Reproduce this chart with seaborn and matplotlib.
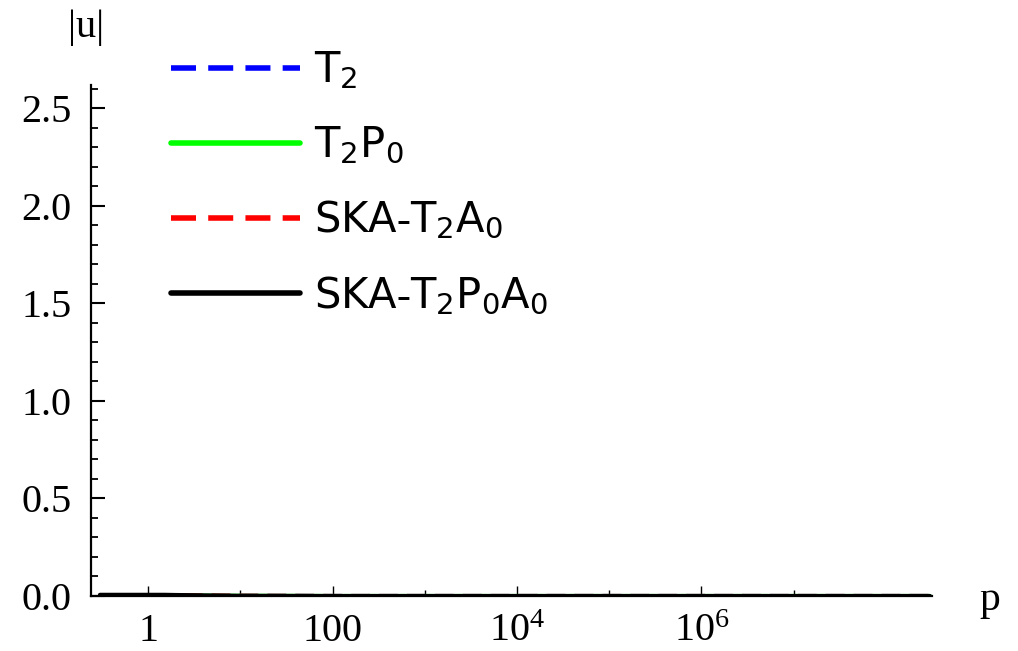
import numpy as np
import pandas as pd
import matplotlib
matplotlib.use("Agg")
import matplotlib.pyplot as plt
import seaborn as sns
from matplotlib.ticker import FixedLocator, NullFormatter, MultipleLocator

# ---- data (all curves lie on |u| ~ 0) ----
p_values = [0.3, 0.6, 1.0, 1.5, 2.0, 10.0, 100.0, 1e3, 1e4, 1e5, 1e6, 1e7, 1e8, 3e8]
u_T2 = [0.002, 0.002, 0.002, 0.002, 0.001, 0.001, 0.0, 0.0, 0.0, 0.0, 0.0, 0.0, 0.0, 0.0]
u_T2P0 = [0.003, 0.003, 0.003, 0.003, 0.002, 0.001, 0.0, 0.0, 0.0, 0.0, 0.0, 0.0, 0.0, 0.0]
u_SKA_T2A0 = [0.004, 0.004, 0.004, 0.004, 0.003, 0.001, 0.0, 0.0, 0.0, 0.0, 0.0, 0.0, 0.0, 0.0]
u_SKA_T2P0A0 = [0.006, 0.006, 0.006, 0.006, 0.005, 0.001, 0.0, 0.0, 0.0, 0.0, 0.0, 0.0, 0.0, 0.0]

series_names = [r"$\mathregular{T_2}$", r"$\mathregular{T_2P_0}$",
                r"$\mathregular{SKA\text{-}T_2A_0}$", r"$\mathregular{SKA\text{-}T_2P_0A_0}$"]
series_values = [u_T2, u_T2P0, u_SKA_T2A0, u_SKA_T2P0A0]
series_colors = ["#0000ff", "#00ff00", "#ff0000", "#000000"]
series_dashed = [True, False, True, False]

x_tick_values = [1, 100, 1e4, 1e6]
x_tick_labels = ["1", "100", r"$\mathregular{10^4}$", r"$\mathregular{10^6}$"]
y_tick_values = [0.0, 0.5, 1.0, 1.5, 2.0, 2.5]

sns.set_style("ticks")
plt.rcParams["font.family"] = ["Liberation Serif", "DejaVu Serif"]
plt.rcParams["mathtext.fontset"] = "custom"
plt.rcParams["mathtext.rm"] = "Liberation Serif"
for k in ["text.color", "axes.labelcolor", "xtick.color", "ytick.color", "axes.edgecolor"]:
    plt.rcParams[k] = "black"

fig = plt.figure(figsize=(10.18, 6.51), dpi=100)
ax = fig.add_axes([91 / 1018, 1 - 596 / 651, (932 - 91) / 1018, (596 - 85) / 651])

handles = []
for name, vals, col, dashed in zip(series_names, series_values, series_colors, series_dashed):
    df = pd.DataFrame({"p": p_values, "u": vals})
    sns.lineplot(data=df, x="p", y="u", ax=ax, color=col, linewidth=3,
                 linestyle=(0, (4.5, 2.2)) if dashed else "-", legend=False)
    handles.append(ax.lines[-1])

ax.set_xscale("log")
ax.set_xlim(10 ** -0.62, 10 ** 8.5)
ax.set_ylim(0, 2.62)

for s in ["top", "right"]:
    ax.spines[s].set_visible(False)
for s in ["left", "bottom"]:
    ax.spines[s].set_linewidth(1.6)
    ax.spines[s].set_color("black")

ax.xaxis.set_major_locator(FixedLocator(x_tick_values))
ax.set_xticklabels(x_tick_labels)
ax.xaxis.set_minor_locator(FixedLocator([10, 1e3, 1e5, 1e7]))
ax.xaxis.set_minor_formatter(NullFormatter())
ax.yaxis.set_major_locator(FixedLocator(y_tick_values))
ax.set_yticklabels([f"{v:.1f}" for v in y_tick_values])
ax.yaxis.set_minor_locator(MultipleLocator(0.1))

ax.tick_params(axis="y", which="major", direction="in", length=10, width=1.5, labelsize=29, pad=14,
               colors="black")
ax.tick_params(axis="y", which="minor", direction="in", length=5, width=1.3, colors="black")
ax.tick_params(axis="x", which="major", direction="in", length=7, width=1.0, labelsize=29, pad=12,
               colors="black")
ax.tick_params(axis="x", which="minor", direction="in", length=4, width=1.0, colors="black")

ax.set_xlabel("")
ax.set_ylabel("")
fig.text(86 / 1018, 1 - 28 / 651, "|u|", fontsize=29, ha="center", va="center", color="black")
fig.text(990 / 1018, 1 - 600 / 651, "p", fontsize=30, ha="center", va="center", color="black")

leg = ax.legend(handles, series_names, loc="upper left", bbox_to_anchor=(133 / 1018, 1 - 12 / 651),
                bbox_transform=fig.transFigure, frameon=False,
                prop={"family": "DejaVu Sans", "size": 30}, handlelength=3.1,
                handletextpad=0.35, labelspacing=0.79)
for t in leg.get_texts():
    t.set_fontfamily("DejaVu Sans")
    t.set_color("black")
for h in leg.get_lines():
    h.set_linewidth(4)

fig.savefig("out.png", dpi=100)
